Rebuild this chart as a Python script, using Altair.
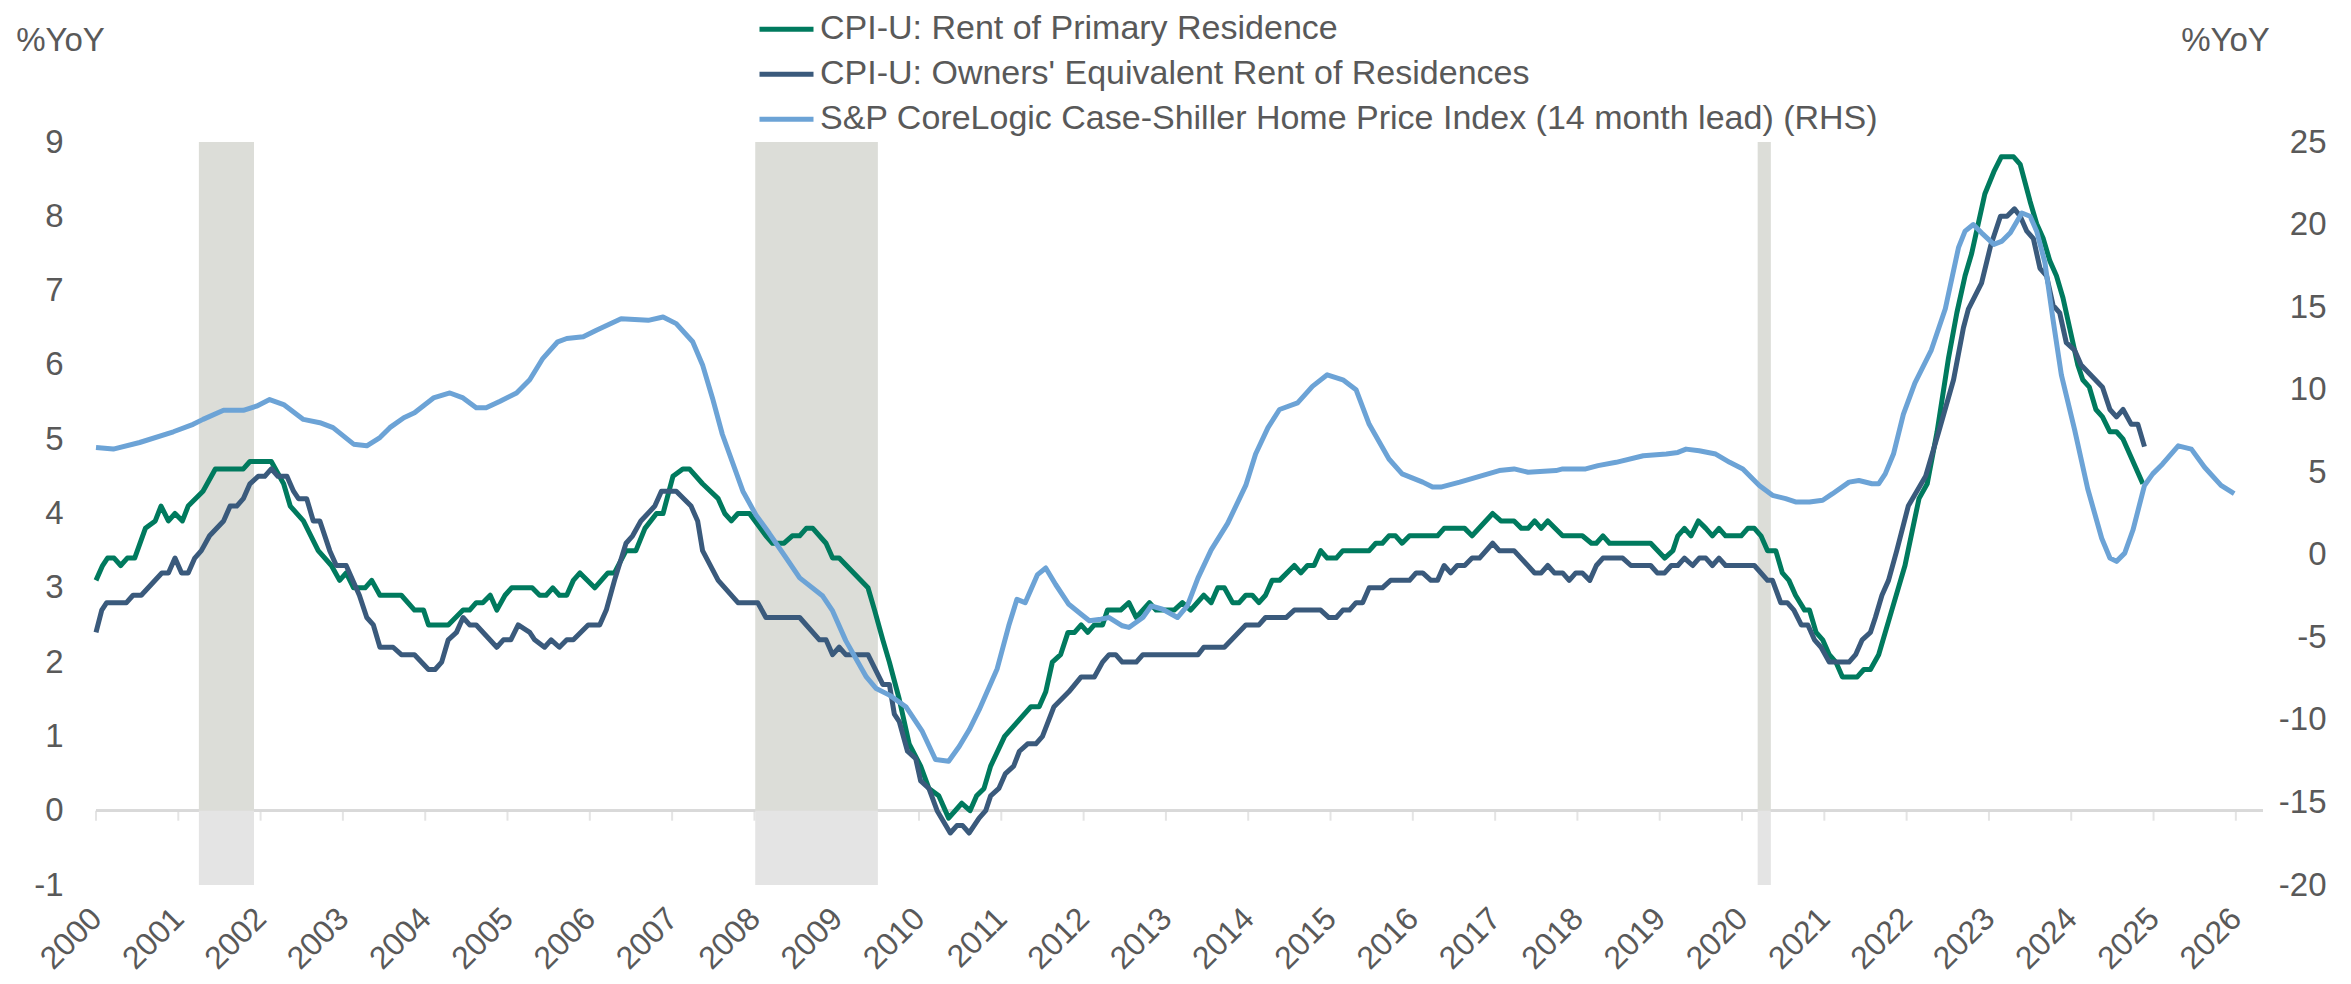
import altair as alt
import pandas as pd

FONT = "Liberation Sans"
TXT = "#595959"

S1 = "CPI-U: Rent of Primary Residence"
S2 = "CPI-U: Owners' Equivalent Rent of Residences"
S3 = "S&P CoreLogic Case-Shiller Home Price Index (14 month lead) (RHS)"

# CPI-U Rent of Primary Residence, %YoY (left axis)
rent_x = [2000.00, 2000.08, 2000.14, 2000.22, 2000.30, 2000.38, 2000.47, 2000.60, 2000.72, 2000.79,
          2000.88, 2000.96, 2001.05, 2001.12, 2001.30, 2001.45, 2001.79, 2001.87, 2002.13, 2002.28,
          2002.36, 2002.52, 2002.70, 2002.86, 2002.96, 2003.04, 2003.13, 2003.27, 2003.35, 2003.45,
          2003.71, 2003.87, 2003.98, 2004.04, 2004.28, 2004.46, 2004.54, 2004.62, 2004.70, 2004.79,
          2004.87, 2004.97, 2005.05, 2005.30, 2005.39, 2005.47, 2005.55, 2005.63, 2005.72, 2005.80,
          2005.88, 2006.06, 2006.22, 2006.30, 2006.44, 2006.56, 2006.67, 2006.81, 2006.89, 2007.01,
          2007.13, 2007.21, 2007.37, 2007.56, 2007.64, 2007.72, 2007.80, 2007.94, 2008.14, 2008.22,
          2008.36, 2008.46, 2008.55, 2008.63, 2008.71, 2008.87, 2008.95, 2009.03, 2009.38, 2009.46,
          2009.56, 2009.64, 2009.76, 2009.88, 2010.02, 2010.12, 2010.24, 2010.36, 2010.52, 2010.62,
          2010.70, 2010.79, 2010.87, 2011.04, 2011.36, 2011.46, 2011.54, 2011.62, 2011.72, 2011.81,
          2011.89, 2011.97, 2012.05, 2012.13, 2012.23, 2012.29, 2012.45, 2012.55, 2012.64, 2012.80,
          2012.88, 2013.10, 2013.20, 2013.30, 2013.46, 2013.55, 2013.63, 2013.71, 2013.81, 2013.89,
          2013.97, 2014.05, 2014.13, 2014.21, 2014.29, 2014.38, 2014.56, 2014.64, 2014.72, 2014.80,
          2014.88, 2014.96, 2015.07, 2015.15, 2015.47, 2015.55, 2015.63, 2015.71, 2015.79, 2015.87,
          2015.96, 2016.30, 2016.38, 2016.63, 2016.72, 2016.97, 2017.07, 2017.23, 2017.32, 2017.40,
          2017.48, 2017.56, 2017.64, 2017.82, 2018.06, 2018.17, 2018.23, 2018.31, 2018.39, 2018.89,
          2019.06, 2019.16, 2019.22, 2019.30, 2019.38, 2019.47, 2019.56, 2019.64, 2019.72, 2019.80,
          2019.99, 2020.07, 2020.15, 2020.23, 2020.31, 2020.41, 2020.49, 2020.57, 2020.65, 2020.76,
          2020.82, 2020.90, 2020.98, 2021.06, 2021.14, 2021.22, 2021.40, 2021.48, 2021.56, 2021.66,
          2021.82, 2021.98, 2022.15, 2022.25, 2022.37, 2022.51, 2022.61, 2022.71, 2022.79, 2022.95,
          2023.06, 2023.15, 2023.30, 2023.38, 2023.50, 2023.58, 2023.66, 2023.74, 2023.82, 2023.90,
          2023.98, 2024.08, 2024.14, 2024.22, 2024.30, 2024.38, 2024.47, 2024.55, 2024.63, 2024.71,
          2024.87]
rent_y = [3.1, 3.3, 3.4, 3.4, 3.3, 3.4, 3.4, 3.8, 3.9, 4.1,
          3.9, 4.0, 3.9, 4.1, 4.3, 4.6, 4.6, 4.7, 4.7, 4.4,
          4.1, 3.9, 3.5, 3.3, 3.1, 3.2, 3.0, 3.0, 3.1, 2.9,
          2.9, 2.7, 2.7, 2.5, 2.5, 2.7, 2.7, 2.8, 2.8, 2.9,
          2.7, 2.9, 3.0, 3.0, 2.9, 2.9, 3.0, 2.9, 2.9, 3.1,
          3.2, 3.0, 3.2, 3.2, 3.5, 3.5, 3.8, 4.0, 4.0, 4.5,
          4.6, 4.6, 4.4, 4.2, 4.0, 3.9, 4.0, 4.0, 3.7, 3.6,
          3.6, 3.7, 3.7, 3.8, 3.8, 3.6, 3.4, 3.4, 3.0, 2.7,
          2.3, 2.0, 1.5, 0.9, 0.6, 0.3, 0.2, -0.1, 0.1, 0.0,
          0.2, 0.3, 0.6, 1.0, 1.4, 1.4, 1.6, 2.0, 2.1, 2.4,
          2.4, 2.5, 2.4, 2.5, 2.5, 2.7, 2.7, 2.8, 2.6, 2.8,
          2.7, 2.7, 2.8, 2.7, 2.9, 2.8, 3.0, 3.0, 2.8, 2.8,
          2.9, 2.9, 2.8, 2.9, 3.1, 3.1, 3.3, 3.2, 3.3, 3.3,
          3.5, 3.4, 3.4, 3.5, 3.5, 3.6, 3.6, 3.7, 3.7, 3.6,
          3.7, 3.7, 3.8, 3.8, 3.7, 4.0, 3.9, 3.9, 3.8, 3.8,
          3.9, 3.8, 3.9, 3.7, 3.7, 3.6, 3.6, 3.7, 3.6, 3.6,
          3.4, 3.5, 3.7, 3.8, 3.7, 3.9, 3.8, 3.7, 3.8, 3.7,
          3.7, 3.8, 3.8, 3.7, 3.5, 3.5, 3.2, 3.1, 2.9, 2.7,
          2.7, 2.4, 2.3, 2.1, 2.0, 1.8, 1.8, 1.9, 1.9, 2.1,
          2.7, 3.3, 4.2, 4.4, 5.1, 6.1, 6.7, 7.2, 7.5, 8.3,
          8.6, 8.8, 8.8, 8.7, 8.2, 7.9, 7.7, 7.4, 7.2, 6.9,
          6.5, 6.0, 5.8, 5.7, 5.4, 5.3, 5.1, 5.1, 5.0, 4.8,
          4.4]

# CPI-U Owners' Equivalent Rent of Residences, %YoY (left axis)
oer_x = [2000.00, 2000.07, 2000.13, 2000.37, 2000.45, 2000.55, 2000.80, 2000.88, 2000.96, 2001.04,
         2001.12, 2001.20, 2001.28, 2001.38, 2001.55, 2001.63, 2001.71, 2001.79, 2001.87, 2001.97,
         2002.05, 2002.13, 2002.21, 2002.32, 2002.40, 2002.46, 2002.56, 2002.64, 2002.72, 2002.84,
         2002.92, 2003.04, 2003.20, 2003.29, 2003.37, 2003.45, 2003.61, 2003.71, 2003.87, 2004.04,
         2004.12, 2004.20, 2004.28, 2004.38, 2004.46, 2004.54, 2004.62, 2004.87, 2004.95, 2005.04,
         2005.13, 2005.27, 2005.33, 2005.45, 2005.53, 2005.63, 2005.72, 2005.80, 2005.98, 2006.12,
         2006.20, 2006.30, 2006.44, 2006.52, 2006.62, 2006.79, 2006.87, 2007.05, 2007.23, 2007.31,
         2007.37, 2007.56, 2007.80, 2008.04, 2008.14, 2008.55, 2008.79, 2008.87, 2008.95, 2009.03,
         2009.11, 2009.38, 2009.56, 2009.64, 2009.70, 2009.76, 2009.86, 2009.96, 2010.02, 2010.12,
         2010.22, 2010.38, 2010.46, 2010.53, 2010.61, 2010.73, 2010.81, 2010.87, 2010.97, 2011.05,
         2011.15, 2011.22, 2011.32, 2011.42, 2011.50, 2011.64, 2011.82, 2011.97, 2012.13, 2012.23,
         2012.31, 2012.39, 2012.47, 2012.64, 2012.72, 2013.39, 2013.46, 2013.71, 2013.97, 2014.13,
         2014.21, 2014.46, 2014.56, 2014.88, 2014.98, 2015.07, 2015.15, 2015.23, 2015.31, 2015.39,
         2015.47, 2015.63, 2015.73, 2015.96, 2016.04, 2016.12, 2016.22, 2016.30, 2016.38, 2016.46,
         2016.54, 2016.63, 2016.72, 2016.81, 2016.97, 2017.05, 2017.23, 2017.48, 2017.56, 2017.64,
         2017.72, 2017.82, 2017.90, 2017.98, 2018.06, 2018.15, 2018.23, 2018.31, 2018.55, 2018.65,
         2018.89, 2018.97, 2019.06, 2019.14, 2019.22, 2019.30, 2019.40, 2019.48, 2019.56, 2019.64,
         2019.72, 2019.80, 2020.15, 2020.31, 2020.37, 2020.47, 2020.55, 2020.63, 2020.72, 2020.80,
         2020.88, 2020.96, 2021.06, 2021.30, 2021.38, 2021.46, 2021.56, 2021.62, 2021.70, 2021.78,
         2021.88, 2022.02, 2022.23, 2022.39, 2022.57, 2022.69, 2022.75, 2022.91, 2023.02, 2023.14,
         2023.22, 2023.31, 2023.38, 2023.46, 2023.54, 2023.62, 2023.70, 2023.78, 2023.86, 2023.94,
         2024.04, 2024.12, 2024.38, 2024.47, 2024.55, 2024.63, 2024.73, 2024.81, 2024.89]
oer_y = [2.4, 2.7, 2.8, 2.8, 2.9, 2.9, 3.2, 3.2, 3.4, 3.2,
         3.2, 3.4, 3.5, 3.7, 3.9, 4.1, 4.1, 4.2, 4.4, 4.5,
         4.5, 4.6, 4.5, 4.5, 4.3, 4.2, 4.2, 3.9, 3.9, 3.5,
         3.3, 3.3, 2.9, 2.6, 2.5, 2.2, 2.2, 2.1, 2.1, 1.9,
         1.9, 2.0, 2.3, 2.4, 2.6, 2.5, 2.5, 2.2, 2.3, 2.3,
         2.5, 2.4, 2.3, 2.2, 2.3, 2.2, 2.3, 2.3, 2.5, 2.5,
         2.7, 3.1, 3.6, 3.7, 3.9, 4.1, 4.3, 4.3, 4.1, 3.9,
         3.5, 3.1, 2.8, 2.8, 2.6, 2.6, 2.3, 2.3, 2.1, 2.2,
         2.1, 2.1, 1.7, 1.7, 1.3, 1.2, 0.8, 0.7, 0.4, 0.3,
         0.0, -0.3, -0.2, -0.2, -0.3, -0.1, 0.0, 0.2, 0.3, 0.5,
         0.6, 0.8, 0.9, 0.9, 1.0, 1.4, 1.6, 1.8, 1.8, 2.0,
         2.1, 2.1, 2.0, 2.0, 2.1, 2.1, 2.2, 2.2, 2.5, 2.5,
         2.6, 2.6, 2.7, 2.7, 2.6, 2.6, 2.7, 2.7, 2.8, 2.8,
         3.0, 3.0, 3.1, 3.1, 3.2, 3.2, 3.1, 3.1, 3.3, 3.2,
         3.3, 3.3, 3.4, 3.4, 3.6, 3.5, 3.5, 3.2, 3.2, 3.3,
         3.2, 3.2, 3.1, 3.2, 3.2, 3.1, 3.3, 3.4, 3.4, 3.3,
         3.3, 3.2, 3.2, 3.3, 3.3, 3.4, 3.3, 3.4, 3.4, 3.3,
         3.4, 3.3, 3.3, 3.1, 3.1, 2.8, 2.8, 2.7, 2.5, 2.5,
         2.3, 2.2, 2.0, 2.0, 2.1, 2.3, 2.4, 2.6, 2.9, 3.1,
         3.5, 4.1, 4.5, 5.1, 5.8, 6.5, 6.75, 7.1, 7.6, 8.0,
         8.0, 8.1, 8.0, 7.8, 7.7, 7.3, 7.2, 6.8, 6.7, 6.3,
         6.2, 6.0, 5.7, 5.4, 5.3, 5.4, 5.2, 5.2, 4.9]

# S&P CoreLogic Case-Shiller HPI, %YoY, 14 month lead (right axis)
hpi_x = [2000.00, 2000.21, 2000.53, 2000.94, 2001.18, 2001.30, 2001.55, 2001.79, 2001.95, 2002.11,
         2002.28, 2002.52, 2002.72, 2002.88, 2003.13, 2003.29, 2003.45, 2003.57, 2003.74, 2003.87,
         2004.10, 2004.30, 2004.46, 2004.62, 2004.74, 2004.91, 2005.11, 2005.27, 2005.43, 2005.61,
         2005.72, 2005.92, 2006.08, 2006.38, 2006.71, 2006.89, 2007.05, 2007.25, 2007.37, 2007.49,
         2007.61, 2007.86, 2008.02, 2008.18, 2008.38, 2008.55, 2008.83, 2008.95, 2009.11, 2009.36,
         2009.48, 2009.64, 2009.84, 2010.04, 2010.20, 2010.36, 2010.49, 2010.61, 2010.73, 2010.95,
         2011.09, 2011.19, 2011.29, 2011.44, 2011.54, 2011.66, 2011.82, 2011.97, 2012.07, 2012.21,
         2012.31, 2012.47, 2012.55, 2012.72, 2012.82, 2012.96, 2013.14, 2013.26, 2013.39, 2013.55,
         2013.75, 2013.97, 2014.09, 2014.24, 2014.38, 2014.60, 2014.78, 2014.96, 2015.15, 2015.31,
         2015.47, 2015.71, 2015.87, 2016.12, 2016.24, 2016.34, 2016.57, 2016.81, 2017.05, 2017.23,
         2017.40, 2017.74, 2017.82, 2018.10, 2018.25, 2018.47, 2018.80, 2019.08, 2019.22, 2019.32,
         2019.48, 2019.68, 2019.85, 2020.01, 2020.21, 2020.37, 2020.53, 2020.65, 2020.82, 2020.98,
         2021.10, 2021.30, 2021.42, 2021.58, 2021.66, 2021.74, 2021.84, 2021.96, 2022.10, 2022.30,
         2022.47, 2022.63, 2022.71, 2022.81, 2022.91, 2023.06, 2023.16, 2023.26, 2023.40, 2023.50,
         2023.58, 2023.68, 2023.78, 2023.88, 2024.04, 2024.20, 2024.37, 2024.47, 2024.55, 2024.65,
         2024.75, 2024.89, 2024.99, 2025.11, 2025.30, 2025.46, 2025.62, 2025.82, 2025.98]
hpi_y = [6.5, 6.4, 6.8, 7.45, 7.9, 8.2, 8.75, 8.75, 9.0, 9.4,
         9.1, 8.2, 8.0, 7.7, 6.7, 6.6, 7.1, 7.7, 8.3, 8.6,
         9.5, 9.8, 9.5, 8.9, 8.9, 9.3, 9.8, 10.6, 11.9, 12.9,
         13.1, 13.2, 13.6, 14.3, 14.2, 14.4, 14.0, 12.9, 11.5, 9.5,
         7.3, 3.85, 2.4, 1.3, -0.15, -1.4, -2.5, -3.4, -5.2, -7.4,
         -8.1, -8.5, -9.2, -10.7, -12.4, -12.5, -11.6, -10.6, -9.4, -6.9,
         -4.3, -2.7, -2.9, -1.2, -0.8, -1.8, -3.0, -3.6, -4.0, -3.9,
         -3.8, -4.3, -4.4, -3.8, -3.1, -3.3, -3.8, -3.1, -1.4, 0.3,
         1.9, 4.2, 6.1, 7.7, 8.8, 9.2, 10.2, 10.9, 10.6, 10.0,
         7.9, 5.8, 4.9, 4.4, 4.1, 4.1, 4.4, 4.75, 5.1, 5.2,
         5.0, 5.1, 5.2, 5.2, 5.4, 5.6, 6.0, 6.1, 6.2, 6.4,
         6.3, 6.1, 5.6, 5.2, 4.2, 3.6, 3.4, 3.2, 3.2, 3.3,
         3.7, 4.4, 4.5, 4.3, 4.3, 4.9, 6.1, 8.5, 10.4, 12.4,
         14.9, 18.6, 19.6, 20.0, 19.5, 18.8, 19.0, 19.5, 20.7, 20.5,
         19.6, 17.7, 14.2, 10.9, 7.6, 4.0, 1.0, -0.2, -0.4, 0.1,
         1.5, 4.2, 4.9, 5.5, 6.6, 6.4, 5.3, 4.2, 3.7]

# Recession periods
rec_start = [2001.25, 2008.01, 2020.19]
rec_end = [2001.92, 2009.50, 2020.35]

years = list(range(2000, 2027))
left_ticks = list(range(-1, 10))
right_ticks = list(range(-20, 26, 5))

GREEN = "#007A5E"
NAVY = "#3A5A7C"
LBLUE = "#6CA3D6"

cpi_df = pd.concat([
    pd.DataFrame({"x": rent_x, "v": rent_y, "s": S1}),
    pd.DataFrame({"x": oer_x, "v": oer_y, "s": S2}),
], ignore_index=True)
hpi_df = pd.DataFrame({"x": hpi_x, "v": hpi_y, "s": S3})
rec_df = pd.DataFrame({"a": rec_start, "b": rec_end})
tick_df = pd.DataFrame({"yr": years})

xscale = alt.Scale(domain=[2000, 2026.33], nice=False, zero=False)
xaxis = alt.Axis(values=years, format="d", labelAngle=-45, labelAlign="right",
                 labelBaseline="middle", labelPadding=28, ticks=False, tickSize=0,
                 domain=False, grid=False, labelOverlap=False, labelFlush=False,
                 labelFontSize=32, labelColor=TXT, labelFont=FONT, title=None)
lscale = alt.Scale(domain=[-1, 9], nice=False, zero=False)
laxis = alt.Axis(orient="left", values=left_ticks, labelExpr="toString(datum.value)",
                 ticks=False, tickSize=0, domain=False,
                 grid=False, labelPadding=33, labelFontSize=33, labelColor=TXT,
                 labelFont=FONT, title="%YoY", titleAngle=0, titleX=-36, titleY=-102,
                 titleAlign="center", titleBaseline="middle", titleFontSize=33,
                 titleFontWeight="normal", titleColor=TXT, titleFont=FONT)
rscale = alt.Scale(domain=[-20, 25], nice=False, zero=False)
raxis = alt.Axis(orient="right", values=right_ticks, labelExpr="toString(datum.value)",
                 ticks=False, tickSize=0, domain=False,
                 grid=False, labelAlign="right", labelPadding=63, labelFontSize=33,
                 labelColor=TXT, labelFont=FONT, title="%YoY", titleAngle=0, titleX=-38,
                 titleY=-102, titleAlign="center", titleBaseline="middle", titleFontSize=33,
                 titleFontWeight="normal", titleColor=TXT, titleFont=FONT)

cscale = alt.Scale(domain=[S1, S2, S3], range=[GREEN, NAVY, LBLUE])
legend = alt.Legend(orient="none", legendX=661, legendY=-135, title=None,
                    symbolType="stroke", symbolSize=2916, symbolStrokeWidth=5,
                    labelFontSize=34, labelFont=FONT, labelColor=TXT, labelLimit=0,
                    clipHeight=44.5, rowPadding=0, labelOffset=4, padding=0,
                    direction="vertical")

X = lambda f: alt.X(f, scale=xscale, axis=xaxis)

rec_top = alt.Chart(rec_df).mark_rect(color="#DCDDD8").encode(
    x=X("a:Q"), x2="b:Q",
    y=alt.YDatum(9, scale=lscale, axis=laxis), y2=alt.Y2Datum(0))
rec_bot = alt.Chart(rec_df).mark_rect(color="#E4E4E4").encode(
    x=X("a:Q"), x2="b:Q",
    y=alt.YDatum(0, scale=lscale, axis=laxis), y2=alt.Y2Datum(-1))
zero = alt.Chart(tick_df).mark_rule(color="#D9D9D9", strokeWidth=2.5).encode(
    y=alt.YDatum(0, scale=lscale, axis=laxis))
ticks = alt.Chart(tick_df).mark_tick(orient="vertical", color="#D9D9D9", thickness=2,
                                     size=10, yOffset=5).encode(
    x=X("yr:Q"), y=alt.YDatum(0, scale=lscale, axis=laxis))
cpi = alt.Chart(cpi_df).mark_line(strokeWidth=5, strokeJoin="round").encode(
    x=X("x:Q"), y=alt.Y("v:Q", scale=lscale, axis=laxis),
    color=alt.Color("s:N", scale=cscale, legend=legend))
hpi = alt.Chart(hpi_df).mark_line(strokeWidth=5, strokeJoin="round").encode(
    x=X("x:Q"), y=alt.Y("v:Q", scale=rscale, axis=raxis),
    color=alt.Color("s:N", scale=cscale, legend=legend))

primary = alt.layer(zero, ticks, rec_top, rec_bot, cpi)
chart = alt.layer(primary, hpi).resolve_scale(y="independent").properties(
    width=2167, height=743,
    autosize=alt.AutoSizeParams(type="none"),
    padding={"left": 88, "top": 134, "right": 80, "bottom": 91},
).configure_view(stroke=None)

chart.save("out.html", embed_options={"renderer": "svg", "actions": False})
